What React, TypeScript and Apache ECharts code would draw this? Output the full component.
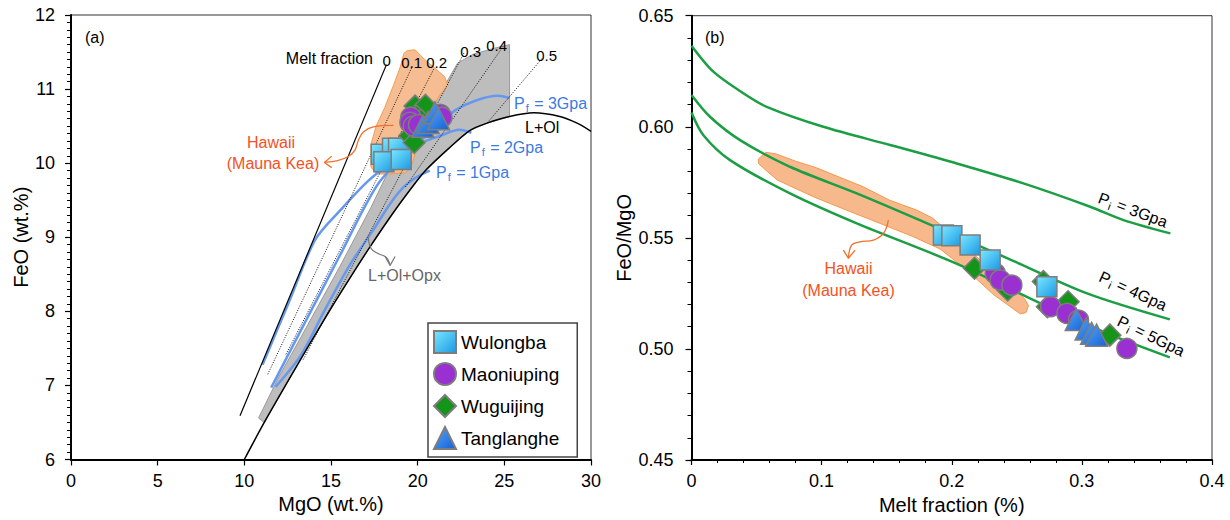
import React, { useEffect, useRef } from 'react';
import * as echarts from 'echarts';

const FONT = '"Liberation Sans", Arial, Helvetica, sans-serif';

// ---------- Panel (a): FeO vs MgO ----------
const sampleNames = ['Wulongba', 'Maoniuping', 'Wuguijing', 'Tanglanghe'];

const aWulongba = [[17.9, 10.12], [18.55, 10.2], [18.9, 10.2], [18.05, 10.02], [19.05, 10.05]];
const aMaoniuping = [[19.6, 10.62], [19.55, 10.55], [19.75, 10.5], [20.05, 10.52], [21.2, 10.6], [21.3, 10.66], [21.4, 10.62]];
const aWuguijing = [[19.85, 10.77], [20.45, 10.78], [19.95, 10.63], [20.2, 10.58], [19.55, 10.37], [19.8, 10.28]];
const aTanglanghe = [[20.3, 10.5], [20.6, 10.55], [21.0, 10.68], [21.2, 10.6]];

// olivine-saturation boundary (L+Ol)
const olCurve = [[10, 6.0], [11.15, 6.5], [12.5, 7.05], [13.8, 7.57], [15.0, 8.04], [16.2, 8.49], [17.25, 8.87], [18.5, 9.3], [19.5, 9.62], [20.45, 9.9], [21.8, 10.2], [23.0, 10.44], [24.0, 10.54], [25.3, 10.63], [26.7, 10.68], [28.2, 10.63], [29.2, 10.54], [30, 10.43]];
// upper edge of the L+Ol+Opx field
const opxEdge = [[10.82, 6.56], [12.0, 7.12], [13.5, 7.75], [15.5, 8.6], [17.3, 9.4], [18.4, 9.93], [20.0, 10.5], [21.1, 10.86], [22.3, 11.35], [23.2, 11.47], [24.4, 11.55], [25.3, 11.6], [25.3, 10.63]];

const hawaiiA = [[19.4, 11.52], [19.85, 11.53], [20.4, 11.4], [21.0, 11.28], [21.55, 11.17], [21.75, 11.05], [21.3, 10.92], [20.9, 10.78], [20.5, 10.5], [20.0, 10.25], [19.7, 10.0], [19.3, 9.87], [18.2, 9.85], [17.6, 9.86], [17.3, 9.95], [17.3, 10.25], [17.6, 10.5], [18.1, 10.75], [18.6, 11.05], [19.0, 11.3], [19.2, 11.48]];

const pf3 = [[11.05, 7.28], [12.6, 8.14], [14.1, 8.97], [15.6, 9.38], [17.1, 9.75], [18.5, 10.02], [19.8, 10.25], [20.8, 10.42], [21.5, 10.58], [22.2, 10.72], [23.4, 10.85], [24.6, 10.91], [25.3, 10.88]];
const pf2 = [[11.55, 6.97], [13.5, 7.85], [15.5, 8.75], [17.6, 9.68], [19.0, 10.05], [20.2, 10.27], [21.2, 10.36], [22.4, 10.45], [23.1, 10.41]];
const pf1 = [[11.8, 6.98], [13.3, 7.42], [14.6, 8.0], [16.1, 8.63], [17.5, 9.12], [18.4, 9.45], [19.2, 9.68], [20.0, 9.82], [20.7, 9.9]];

const meltF0 = [[9.75, 6.59], [18.2, 11.33]];
const meltF01 = [[11.35, 7.15], [19.7, 11.31]];
const meltF02 = [[12.4, 7.42], [20.95, 11.28]];
const meltF03 = [[13.4, 7.35], [22.7, 11.5]];
const meltF04 = [[19.3, 9.68], [25.0, 11.6]];
const meltF05 = [[24.0, 10.54], [27.2, 11.42]];

const aHawaiiArrow = [[18.6, 10.51], [17.44, 10.49], [16.87, 10.42], [16.58, 10.31], [16.39, 10.18], [16.0, 10.09], [15.33, 10.03], [14.62, 10.01]];
const aHawaiiHead = [[15.04, 10.095], [14.62, 10.01], [15.04, 9.94]];
const aOpxArrow = [[17.15, 9.0], [17.31, 8.85], [17.71, 8.78], [18.18, 8.73], [18.41, 8.62]];
const aOpxHead = [[18.12, 8.74], [18.41, 8.62], [18.7, 8.74]];

// ---------- Panel (b): FeO/MgO vs melt fraction ----------
const bWulongba = [[0.1936, 0.5513], [0.2001, 0.551], [0.2141, 0.5468], [0.2295, 0.54], [0.2731, 0.528]];
const bMaoniuping = [[0.2334, 0.534], [0.2372, 0.531], [0.2462, 0.5287], [0.276, 0.519], [0.2885, 0.516], [0.2974, 0.513], [0.3346, 0.5002]];
const bWuguijing = [[0.2175, 0.5363], [0.243, 0.5265], [0.2704, 0.5303], [0.2735, 0.519], [0.2894, 0.5212], [0.3215, 0.5062]];
const bTanglanghe = [[0.2957, 0.5133], [0.3033, 0.509], [0.3075, 0.507], [0.3113, 0.5062]];

const pi3 = [[0, 0.6365], [0.0168, 0.6248], [0.0398, 0.6151], [0.0578, 0.609], [0.1013, 0.6], [0.1526, 0.5918], [0.2039, 0.5835], [0.2551, 0.5745], [0.3064, 0.564], [0.332, 0.558], [0.368, 0.552]];
const pi4 = [[0, 0.6143], [0.0142, 0.6045], [0.0373, 0.594], [0.0757, 0.582], [0.127, 0.57], [0.178, 0.5573], [0.2429, 0.5408], [0.304, 0.525], [0.3676, 0.5133]];
const pi5 = [[0, 0.6064], [0.009, 0.5963], [0.0296, 0.585], [0.0757, 0.57], [0.127, 0.5565], [0.2032, 0.5385], [0.2735, 0.519], [0.3193, 0.507], [0.3676, 0.4962]];

const hawaiiB = [[0.0514, 0.5855], [0.057, 0.5885], [0.065, 0.5878], [0.08, 0.5845], [0.0962, 0.5815], [0.115, 0.577], [0.132, 0.573], [0.152, 0.567], [0.173, 0.5625], [0.185, 0.559], [0.194, 0.5545], [0.21, 0.546], [0.228, 0.537], [0.245, 0.529], [0.256, 0.5225], [0.259, 0.5195], [0.257, 0.5163], [0.2526, 0.5158], [0.232, 0.5245], [0.2116, 0.5355], [0.191, 0.545], [0.1705, 0.5505], [0.145, 0.5565], [0.119, 0.5625], [0.0937, 0.5685], [0.066, 0.576], [0.058, 0.58], [0.0514, 0.5835]];

const bHawaiiArrow = [[0.1513, 0.558], [0.1475, 0.552], [0.1398, 0.549], [0.1296, 0.5482], [0.1232, 0.5468], [0.1206, 0.5408]];
const bHawaiiHead = [[0.1167, 0.5445], [0.1206, 0.5408], [0.1257, 0.5445]];

// ---------- styles ----------
const BLUE_LINE = '#6598ee';
const BLUE_TEXT = '#3b7be0';
const GREEN = '#1c9e45';
const ORANGE_FILL = '#f7b98c';
const ORANGE_EDGE = '#f29a4e';
const HAWAII_TEXT = '#f4511e';
const MARKER_EDGE = '#7d7d7d';

const squareFill = new echarts.graphic.LinearGradient(0, 0, 1, 1, [
  { offset: 0, color: '#7ae8ff' },
  { offset: 1, color: '#1c98e4' },
]);
const triangleFill = new echarts.graphic.LinearGradient(0, 0, 1, 1, [
  { offset: 0, color: '#4ca8ff' },
  { offset: 1, color: '#1a5fd2' },
]);

const markerStyles: Record<string, any> = {
  Wulongba: { symbol: 'rect', size: 20, color: squareFill },
  Maoniuping: { symbol: 'circle', size: 20, color: '#9a2fd2' },
  Wuguijing: { symbol: 'diamond', size: 22, color: '#14951a' },
  Tanglanghe: { symbol: 'triangle', size: 22, color: triangleFill },
};

function scatter(name: string, data: number[][], idx: number) {
  const m = markerStyles[name];
  return {
    type: 'scatter',
    name,
    xAxisIndex: idx,
    yAxisIndex: idx,
    data,
    symbol: m.symbol,
    symbolSize: m.size,
    itemStyle: { color: m.color, borderColor: MARKER_EDGE, borderWidth: 1.5, opacity: 1 },
    silent: true,
    z: 5,
  };
}

function line(data: number[][], idx: number, color: string, width: number, type: any = 'solid', smooth: any = false) {
  return {
    type: 'line',
    xAxisIndex: idx,
    yAxisIndex: idx,
    data,
    symbol: 'none',
    showSymbol: false,
    smooth,
    lineStyle: { color, width, type },
    silent: true,
    z: 3,
  };
}

function polygon(points: number[][], idx: number, style: any, z = 2) {
  return {
    type: 'custom',
    xAxisIndex: idx,
    yAxisIndex: idx,
    data: [points[0]],
    silent: true,
    z,
    renderItem: (_params: any, api: any) => ({
      type: 'polygon',
      shape: { points: points.map((p) => api.coord(p)) },
      style,
    }),
  };
}

function axisCommon() {
  return {
    axisLine: { show: true, onZero: false, lineStyle: { color: '#000', width: 2 } },
    axisTick: { show: true, length: 6, lineStyle: { color: '#000', width: 1.2 } },
    splitLine: { show: false },
    axisLabel: { color: '#000', fontSize: 18, fontFamily: FONT },
    nameTextStyle: { color: '#000', fontSize: 20, fontFamily: FONT },
    nameLocation: 'middle',
  };
}

function text(x: number, y: number, str: string, opts: any = {}) {
  return {
    type: 'text',
    x,
    y,
    z: 100,
    rotation: opts.rotation || 0,
    style: {
      text: str,
      fill: opts.color || '#000',
      fontSize: opts.size || 16,
      fontFamily: FONT,
      align: opts.align || 'left',
      verticalAlign: 'middle',
      rich: opts.rich,
    },
  };
}

function pressureLabel(x: number, y: number, sub: string, value: string, color: string, rotation = 0, align = 'left') {
  return text(x, y, `{p|P}{s|${sub}}{p| = ${value}}`, {
    color,
    rotation,
    align,
    rich: {
      p: { fontSize: 16, fill: color, fontFamily: FONT, lineHeight: 20 },
      s: { fontSize: 11, fill: color, fontFamily: FONT, lineHeight: 20, padding: [9, 1, 0, 1] },
    },
  });
}

const deg = (d: number) => (d * Math.PI) / 180;

export default function App() {
  const ref = useRef<HTMLDivElement>(null);

  useEffect(() => {
    if (!ref.current) return;
    const chart = echarts.init(ref.current, undefined, { renderer: 'svg' });

    const bandPolygon = [
      ...opxEdge,
      ...olCurve.filter((p) => p[0] >= 11.15 && p[0] <= 25.3).reverse(),
    ];

    const option: any = {
      animation: false,
      textStyle: { fontFamily: FONT },
      grid: [
        { left: 71, top: 15, width: 520, height: 444.5, show: true, borderColor: '#333', borderWidth: 1, backgroundColor: 'transparent' },
        { left: 691.5, top: 15.7, width: 520.5, height: 444.3, show: true, borderColor: '#333', borderWidth: 1, backgroundColor: 'transparent' },
      ],
      xAxis: [
        {
          ...axisCommon(),
          type: 'value', gridIndex: 0, min: 0, max: 30, interval: 5,
          name: 'MgO (wt.%)', nameGap: 29,
          axisLabel: { ...axisCommon().axisLabel, margin: 12 },
        },
        {
          ...axisCommon(),
          type: 'value', gridIndex: 1, min: 0, max: 0.4, interval: 0.1,
          name: 'Melt fraction (%)', nameGap: 29,
          axisTick: { show: true, length: 5, lineStyle: { color: '#000', width: 1.2 } },
          minorTick: { show: true, splitNumber: 5, length: 3, lineStyle: { color: '#000', width: 1 } },
          axisLabel: { ...axisCommon().axisLabel, margin: 12 },
        },
      ],
      yAxis: [
        {
          ...axisCommon(),
          type: 'value', gridIndex: 0, min: 6, max: 12, interval: 1,
          name: 'FeO (wt.%)', nameGap: 39,
          minorTick: { show: true, splitNumber: 10, length: 4, lineStyle: { color: '#000', width: 1 } },
          axisLabel: { ...axisCommon().axisLabel, margin: 16 },
        },
        {
          ...axisCommon(),
          type: 'value', gridIndex: 1, min: 0.45, max: 0.65, interval: 0.05,
          name: 'FeO/MgO', nameGap: 58,
          minorTick: { show: true, splitNumber: 5, length: 4, lineStyle: { color: '#000', width: 1 } },
          axisLabel: { ...axisCommon().axisLabel, margin: 18, formatter: (v: number) => v.toFixed(2) },
        },
      ],
      legend: {
        orient: 'vertical',
        left: 428,
        top: 323,
        itemWidth: 22,
        itemHeight: 22,
        itemGap: 8,
        padding: [7, 18, 7, 5],
        borderColor: '#444',
        borderWidth: 1.5,
        backgroundColor: '#fff',
        selectedMode: false,
        textStyle: { color: '#000', fontSize: 19, fontFamily: FONT },
        data: sampleNames,
      },
      series: [
        // panel (a)
        polygon(bandPolygon, 0, { fill: '#bdbdbd', stroke: '#9a9a9a', lineWidth: 1 }, 2),
        line(pf3, 0, BLUE_LINE, 2.5, 'solid', 0.3),
        line(pf2, 0, BLUE_LINE, 2.5, 'solid', 0.3),
        line(pf1, 0, BLUE_LINE, 2.5, 'solid', 0.3),
        polygon(hawaiiA, 0, { fill: ORANGE_FILL, stroke: ORANGE_EDGE, lineWidth: 1, opacity: 0.95 }, 3),
        line(meltF01, 0, '#111', 1, [1, 1.5]),
        line(meltF02, 0, '#111', 1, [1, 1.5]),
        line(meltF03, 0, '#111', 1, [1, 1.5]),
        line(meltF04, 0, '#111', 1, [1, 1.5]),
        line(meltF05, 0, '#111', 1, [1, 1.5]),
        line(meltF0, 0, '#000', 1.2),
        line(olCurve, 0, '#000', 1.5, 'solid', 0.3),
        line(aHawaiiArrow, 0, '#f4702a', 1.3, 'solid', 0.4),
        line(aHawaiiHead, 0, '#f4702a', 1.3),
        line(aOpxArrow, 0, '#777', 1.2, 'solid', 0.4),
        line(aOpxHead, 0, '#777', 1.2),
        scatter('Wulongba', aWulongba, 0),
        scatter('Wuguijing', aWuguijing, 0),
        scatter('Maoniuping', aMaoniuping, 0),
        scatter('Tanglanghe', aTanglanghe, 0),
        // panel (b)
        polygon(hawaiiB, 1, { fill: ORANGE_FILL, stroke: ORANGE_EDGE, lineWidth: 1 }, 2),
        line(pi3, 1, GREEN, 2.5, 'solid', 0.3),
        line(pi4, 1, GREEN, 2.5, 'solid', 0.3),
        line(pi5, 1, GREEN, 2.5, 'solid', 0.3),
        line(bHawaiiArrow, 1, '#f4702a', 1.3, 'solid', 0.4),
        line(bHawaiiHead, 1, '#f4702a', 1.3),
        scatter('Wuguijing', bWuguijing, 1),
        scatter('Maoniuping', bMaoniuping, 1),
        scatter('Tanglanghe', bTanglanghe, 1),
        scatter('Wulongba', bWulongba, 1),
      ],
      graphic: [
        text(85, 37, '(a)', { size: 16 }),
        text(705, 37, '(b)', { size: 16 }),
        text(373, 58, 'Melt fraction', { size: 16, align: 'right' }),
        text(386.7, 60, '0', { size: 15, align: 'center' }),
        text(411.7, 62.5, '0.1', { size: 15, align: 'center' }),
        text(436.7, 62.5, '0.2', { size: 15, align: 'center' }),
        text(470.7, 51.5, '0.3', { size: 15, align: 'center' }),
        text(496.7, 45, '0.4', { size: 15, align: 'center' }),
        text(546.7, 55, '0.5', { size: 15, align: 'center' }),
        text(525, 127, 'L+Ol', { size: 16 }),
        text(368, 275, 'L+Ol+Opx', { size: 16, color: '#666' }),
        text(271, 142, 'Hawaii', { size: 16, color: HAWAII_TEXT, align: 'center' }),
        text(273, 163.5, '(Mauna Kea)', { size: 16, color: HAWAII_TEXT, align: 'center' }),
        pressureLabel(514, 103, 'f', '3Gpa', BLUE_TEXT),
        pressureLabel(470, 147, 'f', '2Gpa', BLUE_TEXT),
        pressureLabel(436, 172, 'f', '1Gpa', BLUE_TEXT),
        text(848.5, 268, 'Hawaii', { size: 16, color: HAWAII_TEXT, align: 'center' }),
        text(848.5, 290.5, '(Mauna Kea)', { size: 16, color: HAWAII_TEXT, align: 'center' }),
        pressureLabel(1133, 210, 'i', '3Gpa', '#000', deg(-20.5), 'center'),
        pressureLabel(1133, 291, 'i', '4Gpa', '#000', deg(-25), 'center'),
        pressureLabel(1151, 336, 'i', '5Gpa', '#000', deg(-26), 'center'),
      ],
    };

    chart.setOption(option);
    return () => chart.dispose();
  }, []);

  return (
    <div
      ref={ref}
      style={{ position: 'absolute', left: 0, top: 0, width: 1230, height: 520, background: '#fff' }}
    />
  );
}
